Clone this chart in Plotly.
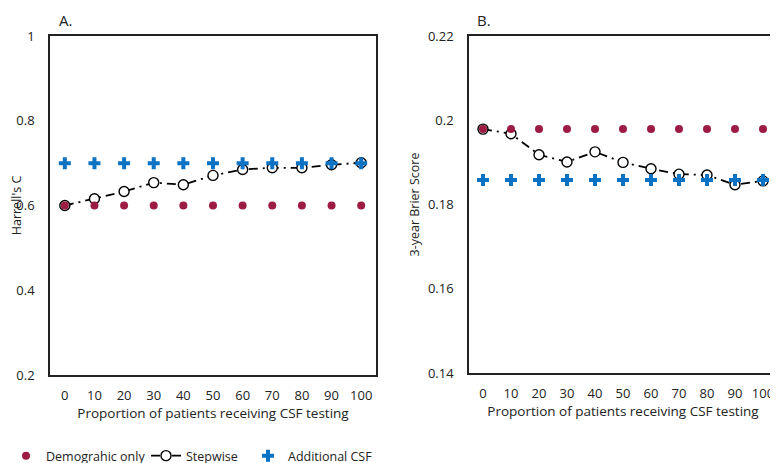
import plotly.graph_objects as go

# proportion of patients receiving CSF testing (%)
proportion = [0, 10, 20, 30, 40, 50, 60, 70, 80, 90, 100]

# Panel A: Harrell's C
harrell_demographic = [0.60, 0.60, 0.60, 0.60, 0.60, 0.60, 0.60, 0.60, 0.60, 0.60, 0.60]
harrell_stepwise = [0.600, 0.616, 0.633, 0.654, 0.649, 0.671, 0.685, 0.689, 0.689, 0.696, 0.701]
harrell_csf = [0.70, 0.70, 0.70, 0.70, 0.70, 0.70, 0.70, 0.70, 0.70, 0.70, 0.70]

# Panel B: 3-year Brier score
brier_demographic = [0.1979] * 11
brier_stepwise = [0.1979, 0.1968, 0.1918, 0.1901, 0.1925, 0.1900, 0.1885, 0.1872, 0.1870, 0.1847, 0.1856]
brier_csf = [0.1858] * 11

harrell_ticks = [0.2, 0.4, 0.6, 0.8, 1]
harrell_ticktext = ["0.2", "0.4", "0.6", "0.8", "1"]
brier_ticks = [0.14, 0.16, 0.18, 0.20, 0.22]
brier_ticktext = ["0.14", "0.16", "0.18", "0.2", "0.22"]

RED = "#9C1C44"
BLUE = "#0B72C4"
FONT = "Open Sans"
DASH = "9px,5px,2px,5px"

# the page body adds an 8px margin, so the figure is shrunk by that much
OFF = 8
W, H = 778 - OFF, 463 - OFF


def px(x):
    return (x - OFF) / W


def py(y):
    return 1 - (y - OFF) / H


fig = go.Figure()

for xa, ya, dem, step, csf, show in [
    ("x", "y", harrell_demographic, harrell_stepwise, harrell_csf, True),
    ("x2", "y2", brier_demographic, brier_stepwise, brier_csf, False),
]:
    fig.add_trace(go.Scatter(
        x=proportion, y=step, xaxis=xa, yaxis=ya, mode="lines+markers",
        name="Stepwise", legend="legend2", showlegend=show,
        line=dict(color="black", width=1.8, dash=DASH),
        marker=dict(symbol="circle", size=10, color="white",
                    line=dict(width=1.4, color="black")),
    ))
    fig.add_trace(go.Scatter(
        x=proportion, y=dem, xaxis=xa, yaxis=ya, mode="markers",
        name="Demograhic only", legend="legend", showlegend=show,
        marker=dict(symbol="circle", size=8, color=RED, line=dict(width=0)),
    ))
    fig.add_trace(go.Scatter(
        x=proportion, y=csf, xaxis=xa, yaxis=ya, mode="markers",
        name="Additional CSF", legend="legend3", showlegend=show,
        marker=dict(symbol="cross", size=10, color=BLUE, line=dict(width=0)),
    ))

axis_common = dict(
    showline=True, mirror=True, linecolor="#222222", linewidth=1.5,
    showgrid=False, zeroline=False, ticks="", automargin=False,
    tickfont=dict(family=FONT, size=13, color="#222222"),
)

xtitle = dict(text="Proportion of patients receiving CSF testing",
              font=dict(size=13.5), standoff=5)

legend_common = dict(y=py(456), xanchor="left", yanchor="middle",
                     orientation="h", font=dict(size=12.5),
                     bgcolor="rgba(0,0,0,0)")

fig.update_layout(
    width=W, height=H,
    margin=dict(l=0, r=0, t=0, b=0, pad=0, autoexpand=False),
    paper_bgcolor="white", plot_bgcolor="white",
    font=dict(family=FONT, size=12, color="#222222"),
    xaxis=dict(axis_common, domain=[px(50), px(376)], range=[-5, 105],
               tickvals=proportion, ticklabelstandoff=8, anchor="y",
               title=xtitle),
    yaxis=dict(axis_common, domain=[py(375), py(36)], range=[0.2, 1],
               tickvals=harrell_ticks, ticktext=harrell_ticktext,
               ticklabelstandoff=11, anchor="x",
               title=dict(text="Harrell's C", font=dict(size=12.5), standoff=6)),
    xaxis2=dict(axis_common, domain=[px(469), px(777)], range=[-5, 105],
                tickvals=proportion, ticklabelstandoff=8, anchor="y2",
                title=xtitle),
    yaxis2=dict(axis_common, domain=[py(373), py(36)], range=[0.14, 0.22],
                tickvals=brier_ticks, ticktext=brier_ticktext,
                ticklabelstandoff=11, anchor="x2",
                title=dict(text="3-year Brier Score", font=dict(size=12.5), standoff=6)),
    showlegend=True,
    legend=dict(legend_common, x=px(6)),
    legend2=dict(legend_common, x=px(146)),
    legend3=dict(legend_common, x=px(248)),
    annotations=[
        dict(text="A.", x=px(57), y=1, xref="paper", yref="paper",
             xanchor="left", yanchor="top", showarrow=False,
             font=dict(family=FONT, size=15, color="#222222")),
        dict(text="B.", x=px(475), y=1, xref="paper", yref="paper",
             xanchor="left", yanchor="top", showarrow=False,
             font=dict(family=FONT, size=15, color="#222222")),
    ],
)

fig.write_html("out.html")
